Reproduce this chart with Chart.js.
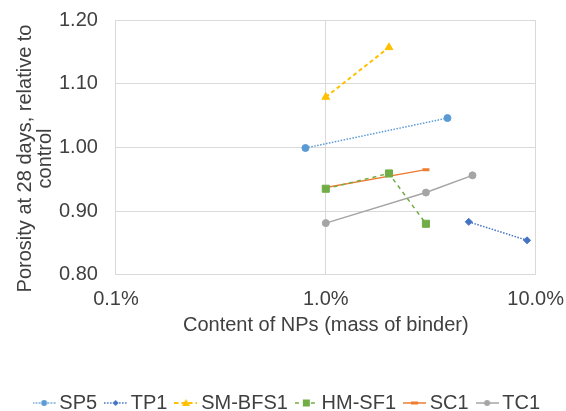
<!DOCTYPE html>
<html>
<head>
<meta charset="utf-8">
<script src="https://cdn.jsdelivr.net/npm/chart.js@4"></script>
<style>
	html, body { margin: 0; padding: 0; background: #fff; }
</style>
</head>
<body>
<canvas id="chart" width="566" height="411"></canvas>
<script>
(function () {
	'use strict';

	// --- Data (x = content of NPs in %, y = relative porosity) ---

	const seriesNames = ['SP5', 'TP1', 'SM-BFS1', 'HM-SF1', 'SC1', 'TC1'];

	const sp5X = [0.8, 3.8];
	const sp5Y = [0.999, 1.046];
	const tp1X = [4.8, 9.1];
	const tp1Y = [0.883, 0.854];
	const smbfs1X = [1, 2];
	const smbfs1Y = [1.079, 1.157];
	const hmsf1X = [1, 2, 3];
	const hmsf1Y = [0.935, 0.959, 0.880];
	const sc1X = [1, 3];
	const sc1Y = [0.937, 0.965];
	const tc1X = [1, 3, 5];
	const tc1Y = [0.881, 0.929, 0.956];

	const xTicks = [0.1, 1, 10];
	const yMin = 0.8;
	const yMax = 1.2;
	const yStep = 0.1;

	const xTitle = 'Content of NPs (mass of binder)';
	// trailing spaces nudge the rotated title a little below the plot centre
	const yTitle = ['Porosity at 28 days, relative to    ', 'control    '];

	// --- Styling ---

	const TEXT = '#404040';
	const GRID = '#d9d9d9';
	const FONT = "'Liberation Sans', Arial, sans-serif";
	const LEGEND_DX = 6.5;
	const LEGEND_DY = 12;

	const styles = [
		{ color: '#5b9bd5', dash: [1.5, 1.5], width: 1.5, point: 'circle', radius: 3.5 },
		{ color: '#4472c4', dash: [1.5, 1.5], width: 1.5, point: 'rectRot', radius: 3.5 },
		{ color: '#ffc000', dash: [4, 3], width: 2, point: 'triangle', radius: 4.5 },
		{ color: '#70ad47', dash: [4, 4], width: 1.5, point: 'rect', radius: 5 },
		{ color: '#ed7d31', dash: [], width: 1.5, point: 'line', radius: 3.5 },
		{ color: '#a5a5a5', dash: [], width: 1.5, point: 'circle', radius: 3.5 },
	];

	function toPoints(xs, ys) {
		return xs.map((x, i) => ({ x: x, y: ys[i] }));
	}

	const seriesData = [
		toPoints(sp5X, sp5Y),
		toPoints(tp1X, tp1Y),
		toPoints(smbfs1X, smbfs1Y),
		toPoints(hmsf1X, hmsf1Y),
		toPoints(sc1X, sc1Y),
		toPoints(tc1X, tc1Y),
	];

	// legend icon: short line in the series style with a small marker
	function makeIcon(s) {
		const c = document.createElement('canvas');
		c.width = 23;
		c.height = 12;
		const ctx = c.getContext('2d');
		ctx.strokeStyle = s.color;
		ctx.fillStyle = s.color;
		ctx.lineWidth = s.width;
		ctx.setLineDash(s.dash);
		ctx.beginPath();
		ctx.moveTo(0, 6);
		ctx.lineTo(23, 6);
		ctx.stroke();
		ctx.setLineDash([]);
		ctx.beginPath();
		if (s.point === 'circle') {
			ctx.arc(11.5, 6, 3, 0, Math.PI * 2);
			ctx.fill();
		} else if (s.point === 'rectRot') {
			ctx.moveTo(11.5, 3); ctx.lineTo(14.5, 6); ctx.lineTo(11.5, 9); ctx.lineTo(8.5, 6);
			ctx.closePath();
			ctx.fill();
		} else if (s.point === 'triangle') {
			ctx.moveTo(11.5, 2); ctx.lineTo(15.5, 9); ctx.lineTo(7.5, 9);
			ctx.closePath();
			ctx.fill();
		} else if (s.point === 'rect') {
			ctx.fillRect(8, 2.5, 7, 7);
		} else if (s.point === 'line') {
			ctx.fillRect(8, 4.5, 7, 3);
		}
		return c;
	}

	const icons = styles.map(makeIcon);

	const datasets = seriesNames.map((name, i) => {
		const s = styles[i];
		return {
			label: name,
			data: seriesData[i],
			showLine: true,
			borderColor: s.color,
			backgroundColor: s.color,
			borderWidth: s.width,
			borderDash: s.dash,
			pointStyle: s.point,
			pointRadius: s.radius,
			pointHoverRadius: s.radius,
			pointBackgroundColor: s.color,
			pointBorderColor: s.color,
			pointBorderWidth: s.point === 'line' ? 3 : 1,
		};
	});

	const legendShift = {
		id: 'legendShift',
		afterLayout(chart) {
			const lg = chart.legend;
			if (!lg) return;
			lg.left += LEGEND_DX;
			lg.right += LEGEND_DX;
			lg.top += LEGEND_DY;
			lg.bottom += LEGEND_DY;
		},
	};

	Chart.defaults.font.family = FONT;
	Chart.defaults.font.size = 20;
	Chart.defaults.color = TEXT;

	new Chart(document.getElementById('chart'), {
		type: 'scatter',
		data: { datasets },
		plugins: [legendShift],
		options: {
			responsive: false,
			animation: false,
			devicePixelRatio: 1,
			layout: { padding: { top: 20, left: 0, right: 0, bottom: 0 } },
			plugins: {
				tooltip: { enabled: false },
				legend: {
					position: 'bottom',
					labels: {
						usePointStyle: true,
						pointStyleWidth: 10.4,
						padding: 13.3,
						color: TEXT,
						font: { size: 20 },
						generateLabels: function (chart) {
							const items = Chart.defaults.plugins.legend.labels.generateLabels(chart);
							items.forEach(item => {
								item.pointStyle = icons[item.datasetIndex];
								item.rotation = 0;
							});
							return items;
						},
					},
				},
			},
			scales: {
				x: {
					type: 'logarithmic',
					min: xTicks[0],
					max: xTicks[xTicks.length - 1],
					afterBuildTicks: function (axis) {
						axis.ticks = xTicks.map(v => ({ value: v }));
					},
					grid: { color: GRID, lineWidth: 1, tickLength: 11, tickColor: 'rgba(0,0,0,0)' },
					border: { color: GRID },
					ticks: {
						color: TEXT,
						padding: 2,
						maxRotation: 0,
						autoSkip: false,
						callback: function (value) {
							return Number(value).toFixed(1) + '%';
						},
					},
					title: {
						display: true,
						text: xTitle,
						color: TEXT,
						font: { size: 20 },
						padding: { top: 0, bottom: 30 },
					},
				},
				y: {
					min: yMin,
					max: yMax,
					grid: { color: GRID, lineWidth: 1, tickLength: 14, tickColor: 'rgba(0,0,0,0)' },
					border: { color: GRID },
					ticks: {
						stepSize: yStep,
						color: TEXT,
						padding: 4,
						callback: function (value) {
							return Number(value).toFixed(2);
						},
					},
					title: {
						display: true,
						text: yTitle,
						color: TEXT,
						font: { size: 20, lineHeight: 1.0 },
						padding: { top: 15, bottom: 0 },
					},
				},
			},
		},
	});
})();
</script>
</body>
</html>
